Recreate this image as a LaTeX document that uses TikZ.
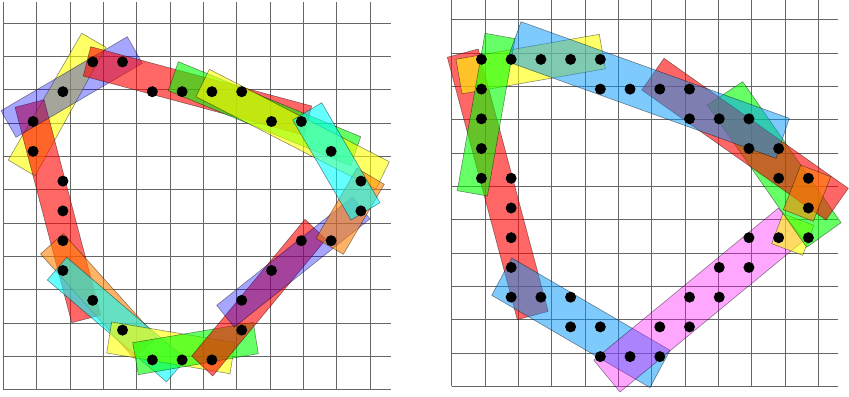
\documentclass[tikz,border=0pt]{standalone}
\usepackage{tikz}
\usepackage{xcolor}
\definecolor{skyfill}{RGB}{0,150,250}
\definecolor{redfill}{RGB}{255,0,0}
\definecolor{yellowfill}{RGB}{255,255,0}
\definecolor{greenfill}{RGB}{0,255,0}
\definecolor{cyanfill}{RGB}{0,255,255}
\definecolor{orangefill}{RGB}{255,128,0}
\definecolor{bluefill}{RGB}{0,0,255}
\definecolor{pinkfill}{RGB}{255,0,255}

\begin{document}
\begin{tikzpicture}[
  x=0.03cm, y=-0.03cm,
  gridline/.style={black!60, line width=0.6pt},
  patch/.style={draw=black, draw opacity=0.45, line width=0.5pt, fill opacity=0.6},
  redp/.style={patch, fill=redfill},
  yellowp/.style={patch, fill=yellowfill},
  greenp/.style={patch, fill=greenfill},
  cyanp/.style={patch, fill=cyanfill},
  orangep/.style={patch, fill=orangefill},
  bluep/.style={patch, fill=bluefill, fill opacity=0.35},
  skyp/.style={patch, fill=skyfill, fill opacity=0.5},
  pinkp/.style={patch, fill=pinkfill, fill opacity=0.35},
  dot/.style={fill=black}
]
\useasboundingbox (0,0) rectangle (849,397);

% Left panel: grid
\begin{scope}[shift={(0.099cm,-11.691cm)}, x=0.894cm, y=0.894cm]
  \draw[gridline] (0,0) grid (13,13);
\end{scope}

% Left panel: rectangles
\fill[yellowp] (81.7,33.3) -- (106,47.3) -- (35,176) -- (8.3,160) -- cycle;
\fill[redp] (15,107.3) -- (44,99.7) -- (100.7,315.1) -- (71.7,322.7) -- cycle;
\fill[bluep] (1,110.7) -- (127.3,36.7) -- (142.3,63.3) -- (16,137.3) -- cycle;
\fill[redp] (90.7,46.7) -- (311.7,106) -- (304.3,135.3) -- (83.3,76) -- cycle;
\fill[greenp] (178.3,61.7) -- (360.7,136.7) -- (350.7,165.7) -- (168.3,90.7) -- cycle;
\fill[yellowp] (209.3,69.3) -- (389.3,161.7) -- (376,189.1) -- (196,96.7) -- cycle;
\fill[orangep] (40.5,254) -- (63.3,233.5) -- (156.8,337.5) -- (134,358) -- cycle;
\fill[cyanp] (47.3,280) -- (66.7,257.3) -- (185.9,359.2) -- (166.5,381.9) -- cycle;
\fill[yellowp] (111.7,322) -- (235,342.7) -- (230,373.7) -- (106.7,353) -- cycle;
\fill[greenp] (132.7,342.7) -- (253.3,322.3) -- (258.3,353.7) -- (138.3,374.7) -- cycle;
\fill[redp] (191.7,356) -- (305,219.3) -- (326,239.3) -- (212.7,376) -- cycle;
\fill[bluep] (216.7,305.3) -- (352.5,197) -- (370,218.9) -- (234.2,327.2) -- cycle;
\fill[orangep] (316,238.3) -- (357,168.3) -- (384.3,184.3) -- (343.3,254.3) -- cycle;
\fill[cyanp] (321.7,102.7) -- (380,202.7) -- (351,220) -- (292.7,120) -- cycle;

% Left panel: points
\begin{scope}[shift={(0.099cm,-11.691cm)}, x=0.894cm, y=0.894cm]
  \foreach \i/\j in {3/11,4/11,2/10,5/10,6/10,7/10,8/10,9/9,10/9,1/9,1/8,2/7,11/8,12/7,
                     2/6,2/5,2/4,3/3,4/2,5/1,6/1,7/1,8/2,8/3,9/4,10/5,11/5,12/6}
    \fill[dot] (\i,\j) circle[radius=0.165cm];
\end{scope}

% Right panel: grid
\begin{scope}[shift={(13.551cm,-11.589cm)}, x=0.8916cm, y=0.8916cm]
  \draw[gridline] (0,0) grid (13,13);
\end{scope}

% Right panel: rectangles
\fill[redp] (447.3,57.3) -- (478.2,49) -- (548.2,311.4) -- (517.3,319.7) -- cycle;
\fill[yellowp] (456,59.3) -- (599.3,34.3) -- (605.3,68.8) -- (462,93.8) -- cycle;
\fill[greenp] (485,33.3) -- (515.1,38.6) -- (487.4,196) -- (457.3,190.7) -- cycle;
\fill[skyp] (511.7,258) -- (670,350.3) -- (650,387.6) -- (491.7,295.3) -- cycle;
\fill[pinkp] (593.7,360.1) -- (778.4,208) -- (804.6,239.9) -- (620,392) -- cycle;
\fill[yellowp] (771.7,243.7) -- (802.7,255.3) -- (813.9,225.3) -- (782.9,213.7) -- cycle;
\fill[greenp] (742.7,81.7) -- (841,222.7) -- (806.7,247.3) -- (707.3,105) -- cycle;
\fill[redp] (664,58.3) -- (848.3,188.3) -- (826,220) -- (641.7,90) -- cycle;
\fill[orangep] (800.7,165) -- (830.7,176.7) -- (813.3,221.4) -- (783.3,209.7) -- cycle;
\fill[skyp] (521,21.7) -- (789.3,118.3) -- (776,158.3) -- (506.7,61.4) -- cycle;

% Right panel: points
\begin{scope}[shift={(13.551cm,-11.589cm)}, x=0.8916cm, y=0.8916cm]
  \foreach \i/\j in {1/11,2/11,3/11,4/11,5/11,1/10,5/10,6/10,7/10,8/10,1/9,8/9,9/9,10/9,
                     1/8,10/8,11/8,1/7,2/7,11/7,12/7,2/6,12/6,2/5,10/5,11/5,12/5,2/4,9/4,10/4,
                     2/3,3/3,4/3,8/3,9/3,4/2,5/2,7/2,8/2,5/1,6/1,7/1}
    \fill[dot] (\i,\j) circle[radius=0.165cm];
\end{scope}

\end{tikzpicture}
\end{document}
